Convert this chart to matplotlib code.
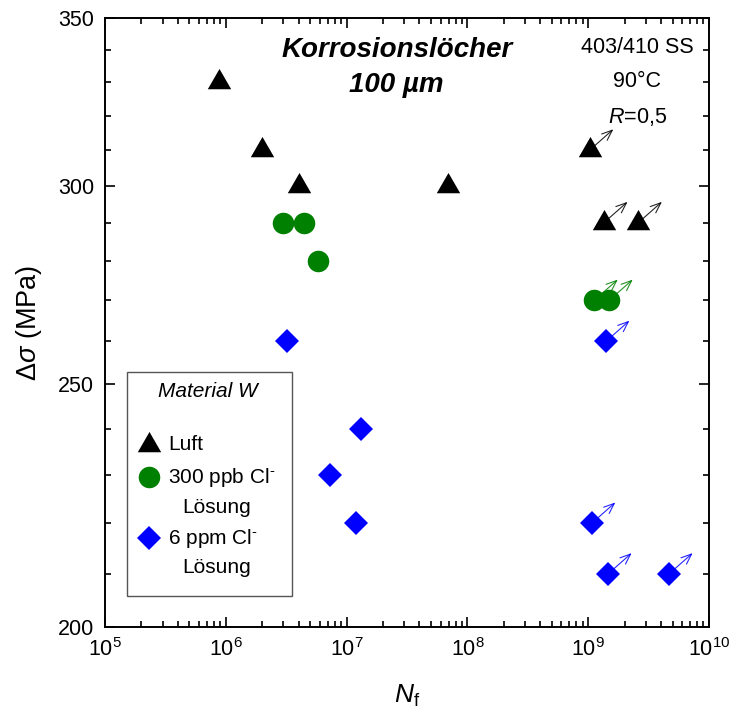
import matplotlib
matplotlib.use("Agg")
import matplotlib.pyplot as plt
from matplotlib.ticker import FixedLocator, FixedFormatter, LogLocator, NullFormatter
from matplotlib.patches import Rectangle

plt.rcParams['font.family'] = ['Liberation Sans', 'DejaVu Sans']
plt.rcParams['mathtext.fontset'] = 'custom'
plt.rcParams['mathtext.rm'] = 'Liberation Sans'
plt.rcParams['mathtext.it'] = 'Liberation Sans:italic'
plt.rcParams['mathtext.bf'] = 'Liberation Sans:bold'

# Fatigue data: cycles to failure vs stress range
luft_n = [8.8e5, 2.0e6, 4.0e6, 6.9e7]
luft_s = [330, 310, 300, 300]
luft_runout_n = [1.03e9, 1.35e9, 2.6e9]
luft_runout_s = [310, 290, 290]

ppb_n = [3.0e6, 4.4e6, 5.8e6]
ppb_s = [290, 290, 280]
ppb_runout_n = [1.12e9, 1.49e9]
ppb_runout_s = [270, 270]

ppm_n = [3.2e6, 1.32e7, 7.3e6, 1.2e7]
ppm_s = [260, 240, 230, 220]
ppm_runout_n = [1.40e9, 1.07e9, 1.46e9, 4.67e9]
ppm_runout_s = [260, 220, 210, 210]

y_major = [200, 250, 300, 350]
y_minor = [210, 220, 230, 240, 260, 270, 280, 290, 310, 320, 330, 340]

black = '#000000'
green = '#008000'
blue = '#0000ff'

tri = [(-1, -0.577), (1, -0.577), (0, 1.155)]

fig = plt.figure(figsize=(7.31, 7.13), dpi=100)
ax = fig.add_axes([105 / 731, 1 - 627 / 713, 604 / 731, 609 / 713])
ax.set_xscale('log')
ax.set_yscale('log')
ax.set_xlim(1e5, 1e10)
ax.set_ylim(200, 350)

series = [
    (luft_n, luft_s, luft_runout_n, luft_runout_s, black, tri, 19.5),
    (ppb_n, ppb_s, ppb_runout_n, ppb_runout_s, green, 'o', 15.5),
    (ppm_n, ppm_s, ppm_runout_n, ppm_runout_s, blue, 'D', 12.5),
]

for n, s, rn, rs, col, mk, ms in series:
    ax.plot(n + rn, s + rs, linestyle='none', marker=mk, markersize=ms,
            color=col, markeredgewidth=0, zorder=3)
    # run-out arrows
    for xv, yv in zip(rn, rs):
        ax.annotate('', xy=(xv, yv), xycoords='data',
                    xytext=(17, 15), textcoords='offset points',
                    arrowprops=dict(arrowstyle='<-, head_length=0.75, head_width=0.3',
                                    color=col, lw=0.8, shrinkA=0, shrinkB=0,
                                    alpha=0.85),
                    zorder=2)

# Axes styling
for sp in ax.spines.values():
    sp.set_linewidth(1.4)
ax.yaxis.set_major_locator(FixedLocator(y_major))
ax.yaxis.set_major_formatter(FixedFormatter([str(v) for v in y_major]))
ax.yaxis.set_minor_locator(FixedLocator(y_minor))
ax.yaxis.set_minor_formatter(NullFormatter())
ax.xaxis.set_major_locator(LogLocator(base=10, numticks=20))
ax.xaxis.set_minor_locator(LogLocator(base=10, subs=range(2, 10), numticks=20))
ax.xaxis.set_minor_formatter(NullFormatter())
ax.tick_params(which='both', direction='in', top=True, right=True, width=1.2)
ax.tick_params(which='major', length=7.5, labelsize=15.5, pad=8)
ax.tick_params(which='minor', length=4)

ax.set_xlabel(r'$N_\mathrm{f}$', fontsize=19, labelpad=16)
ax.set_ylabel(r'$\Delta\sigma$ (MPa)', fontsize=19.5, labelpad=10)

# Annotations
ax.text(0.483, 0.947, 'Korrosionslöcher', transform=ax.transAxes,
        ha='center', va='center', fontsize=20, fontweight='bold', style='italic')
ax.text(0.483, 0.890, '100 µm', transform=ax.transAxes,
        ha='center', va='center', fontsize=20, fontweight='bold', style='italic')
ax.text(0.881, 0.952, '403/410 SS', transform=ax.transAxes,
        ha='center', va='center', fontsize=15.5)
ax.text(0.881, 0.895, '90°C', transform=ax.transAxes,
        ha='center', va='center', fontsize=15.5)
ax.text(0.881, 0.837, r'$\mathit{R}$=0,5', transform=ax.transAxes,
        ha='center', va='center', fontsize=15.5)

# Legend box
ax.add_patch(Rectangle((0.0364, 0.0509), 0.2732, 0.3678, transform=ax.transAxes,
                       facecolor='white', edgecolor='#555555', lw=1.0, zorder=4))
ax.text(0.1705, 0.386, 'Material W', transform=ax.transAxes, ha='center',
        va='center', fontsize=15, style='italic', zorder=5)
leg_rows = [
    (tri, 19.5, black, 0.2989, 'Luft', None),
    ('o', 15.5, green, 0.2463, r'300 ppb Cl$^{\text{-}}$', 0.197),
    ('D', 12.5, blue, 0.1461, r'6 ppm Cl$^{\text{-}}$', 0.0985),
]
for mk, ms, col, yy, label, y2 in leg_rows:
    ax.plot([0.0728], [yy], transform=ax.transAxes, marker=mk, markersize=ms,
            color=col, markeredgewidth=0, linestyle='none', zorder=5, clip_on=False)
    ax.text(0.1043, yy, label, transform=ax.transAxes, ha='left', va='center',
            fontsize=15, zorder=5)
    if y2 is not None:
        ax.text(0.1275, y2, 'Lösung', transform=ax.transAxes, ha='left',
                va='center', fontsize=15, zorder=5)

fig.savefig('out.png', dpi=100)
